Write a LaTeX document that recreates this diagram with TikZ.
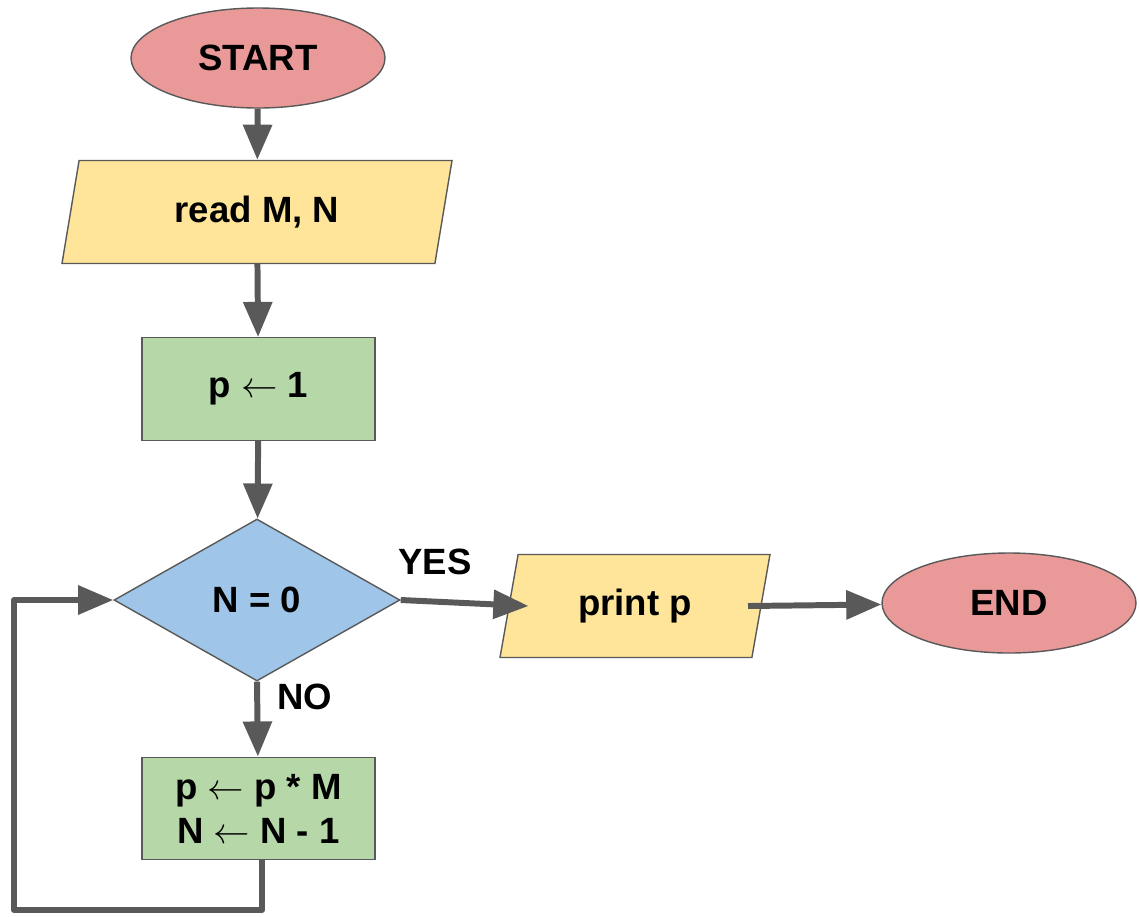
\documentclass[tikz,border=0pt]{standalone}
\usepackage{fontspec}
\setmainfont{Liberation Sans}
\usetikzlibrary{shapes.geometric,arrows.meta}
\definecolor{termred}{HTML}{EA9999}
\definecolor{ioyellow}{HTML}{FFE599}
\definecolor{procgreen}{HTML}{B6D7A8}
\definecolor{testblue}{HTML}{9FC5E8}
\definecolor{linegray}{HTML}{595959}
\tikzset{
    base/.style={draw=linegray, line width=0.8pt, font=\fontsize{20.8}{25}\selectfont\bfseries, align=center, inner sep=0pt},
    terminal/.style={base, ellipse, fill=termred, minimum width=5.08cm, minimum height=2cm},
    inout/.style={base, trapezium, trapezium left angle=62, trapezium right angle=118, trapezium stretches body, fill=ioyellow, minimum height=2.06cm},
    process/.style={base, rectangle, fill=procgreen, minimum width=4.66cm, minimum height=2.05cm},
    test/.style={base, diamond, fill=testblue, minimum width=5.72cm, minimum height=3.24cm},
    tag/.style={font=\fontsize{20.8}{25}\selectfont\bfseries},
    flow/.style={draw=linegray, line width=3.4pt, -{Triangle[length=20pt,width=16pt]}}
}
\begin{document}
\begin{tikzpicture}
    \useasboundingbox (0,0) rectangle (22.78,-18.32);

    \node[terminal] (start) at (5.16,-1.16) {START};
    \node[inout, minimum width=7.8cm] (read) at (5.14,-4.24) {read M, N};
    \node[process] (init) at (5.17,-7.78) {p $\leftarrow$ 1};
    \node[test] (cond) at (5.14,-12.0) {N = 0};
    \node[inout, minimum width=5.4cm] (print) at (12.7,-12.12) {print p};
    \node[terminal] (stop) at (20.18,-12.06) {END};
    \node[process] (update) at (5.17,-16.17) {p $\leftarrow$ p * M\\N $\leftarrow$ N - 1};

    \node[tag] (yes) at (8.7,-11.24) {YES};
    \node[tag] (no) at (6.1,-13.94) {NO};

    \coordinate (printin) at ([xshift=-2.13cm]print.center);
    \coordinate (printout) at ([xshift=2.26cm]print.center);
    \coordinate (down) at (5.24,-18.2);
    \coordinate (corner) at (0.28,-18.2);
    \coordinate (back) at (0.28,-12.0);

    \draw[flow] (start) -- (read);
    \draw[flow] (read) -- (init);
    \draw[flow] (init) -- (cond);
    \draw[flow] (cond.east) -- (printin);
    \draw[flow] (printout) -- (stop);
    \draw[flow] (cond.south) -- (update);
    \draw[flow, line join=round] (update.south -| down) -- (down) -- (corner) -- (back) -- (cond.west);
\end{tikzpicture}
\end{document}
